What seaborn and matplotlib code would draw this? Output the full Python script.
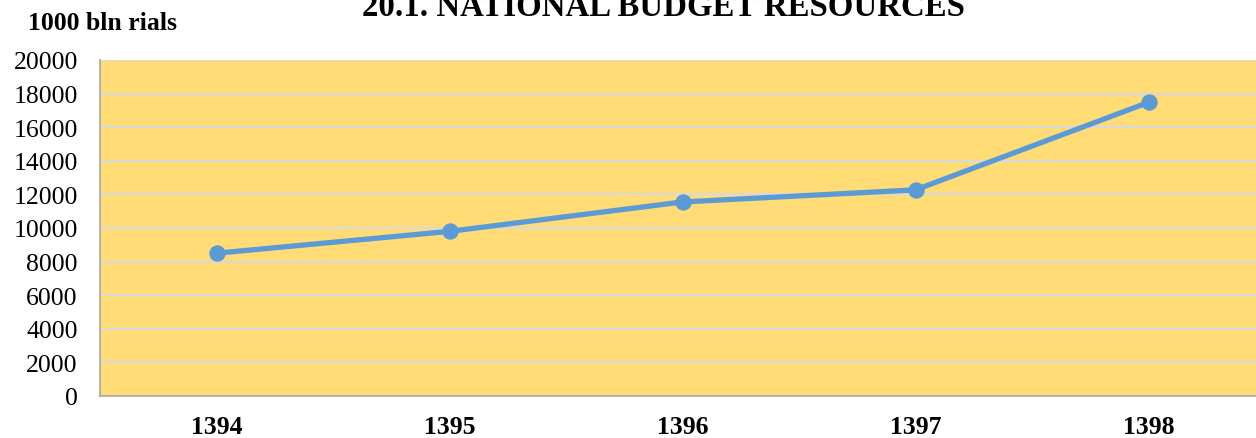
import matplotlib
matplotlib.use("Agg")
import matplotlib.pyplot as plt
import seaborn as sns
import pandas as pd

# values (1000 bln rials)
years = ["1394", "1395", "1396", "1397", "1398"]
resources = [8500, 9800, 11550, 12270, 17480]
y_ticks = list(range(0, 20001, 2000))

sns.set_theme(style="white")
plt.rcParams["font.family"] = ["Liberation Serif", "DejaVu Serif"]
plt.rcParams["text.color"] = "black"

df = pd.DataFrame({"year": years, "value": resources})

fig = plt.figure(figsize=(12.56, 4.39), dpi=100)
ax = fig.add_axes([100 / 1256, 42 / 439, 1165 / 1256, 336 / 439])
ax.set_facecolor("#FFDC76")

ax.set_axisbelow(True)
ax.yaxis.grid(True, color="#D9D9D9", linewidth=1.5)
ax.xaxis.grid(False)

sns.lineplot(data=df, x="year", y="value", ax=ax, color="#5B9BD5",
             linewidth=3.8, marker="o", markersize=11,
             markeredgecolor="#5B9BD5", sort=False)

ax.set_xlim(-0.5, len(years) - 0.5)
ax.set_ylim(0, 20000)
ax.set_yticks(y_ticks)
ax.set_yticklabels([str(t) for t in y_ticks])
ax.tick_params(axis="y", length=0, pad=16, labelsize=18.5, labelcolor="black")
ax.tick_params(axis="x", length=0, pad=14, labelsize=18.5, labelcolor="black")
for lbl in ax.get_xticklabels():
    lbl.set_fontweight("bold")
ax.set_xlabel("")
ax.set_ylabel("")

for side in ["top", "right"]:
    ax.spines[side].set_visible(False)
for side in ["left", "bottom"]:
    ax.spines[side].set_color("#A6A6A6")
    ax.spines[side].set_linewidth(1.2)

fig.text(103 / 1256, 1 - 23 / 439, "1000 bln rials", ha="center", va="center",
         fontsize=18.5, fontweight="bold", color="black")
# title sits partly above the top edge, as in the reference
fig.text(663 / 1256, 1 - 16 / 439, "20.1. NATIONAL BUDGET RESOURCES",
         ha="center", va="baseline", fontsize=23.7, fontweight="bold",
         color="black")

fig.savefig("out.png", dpi=100)
